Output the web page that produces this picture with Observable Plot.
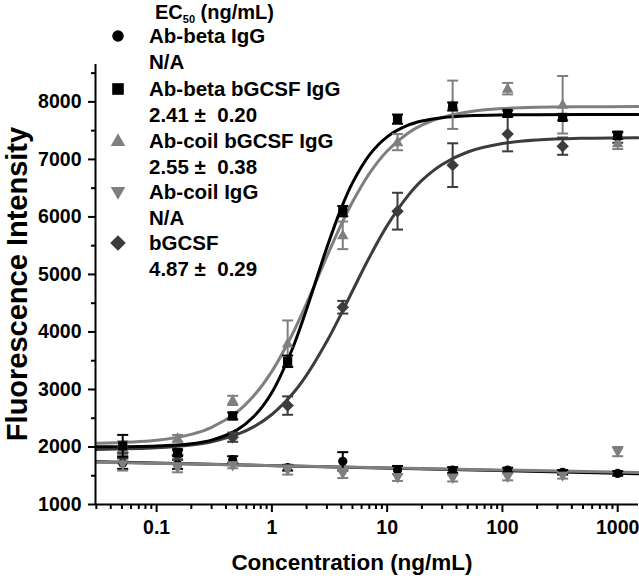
<!DOCTYPE html>
<html><head><meta charset="utf-8">
<script src="https://cdn.jsdelivr.net/npm/d3@7"></script>
<script src="https://cdn.jsdelivr.net/npm/@observablehq/plot@0.6"></script>
<style>
body{margin:0;background:#fff;}
#chart{width:639px;height:580px;}
</style></head><body><div id="chart"></div>
<script>
// ---- data ----
const concentrations = [0.0508, 0.152, 0.457, 1.37, 4.12, 12.3, 37.0, 111, 333, 1000];
const seriesNames = ["Ab-beta IgG", "Ab-beta bGCSF IgG", "Ab-coil bGCSF IgG", "Ab-coil IgG", "bGCSF"];
const ec50Labels = ["N/A", "2.41 \u00b1  0.20", "2.55 \u00b1  0.38", "N/A", "4.87 \u00b1  0.29"];
const seriesColors = ["#000000", "#000000", "#7f7f7f", "#7f7f7f", "#3c3c3c"];
const seriesShapes = ["circle", "square", "triangleUp", "triangleDown", "diamond"];

const abBetaIgG        = [1720, 1700, 1780, 1640, 1750, 1600, 1600, 1600, 1560, 1540];
const abBetaIgGErr     = [100, 80, 60, 50, 160, 70, 50, 40, 40, 40];
const abBetaBGCSF      = [2020, 1900, 2540, 3490, 6100, 7700, 7920, 7800, 7730, 7420];
const abBetaBGCSFErr   = [190, 60, 60, 100, 90, 80, 70, 50, 50, 60];
const abCoilBGCSF      = [1980, 2150, 2810, 3800, 5680, 7300, 7950, 8230, 7950, 7280];
const abCoilBGCSFErr   = [120, 60, 80, 400, 240, 140, 420, 100, 500, 100];
const abCoilIgG        = [1700, 1640, 1680, 1600, 1540, 1470, 1460, 1480, 1500, 1920];
const abCoilIgGErr     = [110, 80, 50, 80, 80, 60, 60, 60, 50, 80];
const bGCSF            = [1900, 1860, 2170, 2720, 4430, 6100, 6900, 7440, 7230, 7380];
const bGCSFErr         = [100, 80, 80, 160, 110, 320, 380, 300, 150, 90];

// fitted curves
const fitX = [0.03, 0.1, 0.2, 0.3, 0.5, 0.7, 1, 1.5, 2, 3, 4, 5, 7, 10, 15, 20, 30, 50, 100, 200, 500, 1500];
const fitAbBetaBGCSF = [2002, 2016, 2057, 2120, 2298, 2533, 2949, 3700, 4396, 5469, 6153, 6591, 7075, 7392, 7590, 7667, 7726, 7759, 7774, 7778, 7780, 7780];
const fitAbCoilBGCSF = [2063, 2116, 2220, 2341, 2611, 2895, 3315, 3956, 4498, 5313, 5869, 6258, 6753, 7146, 7452, 7597, 7731, 7825, 7883, 7906, 7915, 7918];
const fitBGCSF       = [1957, 1985, 2034, 2091, 2218, 2354, 2565, 2916, 3249, 3837, 4319, 4712, 5294, 5848, 6357, 6635, 6913, 7129, 7275, 7337, 7367, 7377];
const linX = [0.03, 1500];
const fitAbBetaIgG = [1745, 1535];
const fitAbCoilIgG = [1735, 1555];

const xDomain = [0.0295, 1515];
const yDomain = [1000, 8650];
const xTicks = [0.1, 1, 10, 100, 1000];
const xMinorTicks = [0.03,0.04,0.05,0.06,0.07,0.08,0.09, 0.2,0.3,0.4,0.5,0.6,0.7,0.8,0.9, 2,3,4,5,6,7,8,9, 20,30,40,50,60,70,80,90, 200,300,400,500,600,700,800,900];
const yTicks = [1000, 2000, 3000, 4000, 5000, 6000, 7000, 8000];
const yMinorTicks = [1500, 2500, 3500, 4500, 5500, 6500, 7500, 8500];

// ---- symbols ----
function sym(kind) {
  return {draw(ctx, size) {
    const r = Math.sqrt(size / Math.PI);
    if (kind === "circle") { ctx.moveTo(r, 0); ctx.arc(0, 0, r, 0, 2 * Math.PI); }
    else if (kind === "square") { ctx.rect(-r, -r, 2 * r, 2 * r); }
    else if (kind === "triangleUp") { const w = 1.25 * r, h = 2.2 * r; ctx.moveTo(0, -h * 0.6); ctx.lineTo(w, h * 0.4); ctx.lineTo(-w, h * 0.4); ctx.closePath(); }
    else if (kind === "triangleDown") { const w = 1.25 * r, h = 2.2 * r; ctx.moveTo(0, h * 0.6); ctx.lineTo(w, -h * 0.4); ctx.lineTo(-w, -h * 0.4); ctx.closePath(); }
    else if (kind === "diamond") { const a = 1.35 * r; ctx.moveTo(0, -a); ctx.lineTo(a, 0); ctx.lineTo(0, a); ctx.lineTo(-a, 0); ctx.closePath(); }
    else if (kind === "cap") { ctx.moveTo(-r, 0); ctx.lineTo(r, 0); }
  }};
}

const valuesList = [abBetaIgG, abBetaBGCSF, abCoilBGCSF, abCoilIgG, bGCSF];
const errList = [abBetaIgGErr, abBetaBGCSFErr, abCoilBGCSFErr, abCoilIgGErr, bGCSFErr];
const points = [];
valuesList.forEach((vals, s) => vals.forEach((v, i) => {
  points.push({s, x: concentrations[i], y: v, lo: v - errList[s][i], hi: v + errList[s][i]});
}));

const fits = [
  {xs: linX, ys: fitAbBetaIgG, color: seriesColors[0]},
  {xs: linX, ys: fitAbCoilIgG, color: seriesColors[3]},
  {xs: fitX, ys: fitBGCSF, color: seriesColors[4]},
  {xs: fitX, ys: fitAbCoilBGCSF, color: seriesColors[2]},
  {xs: fitX, ys: fitAbBetaBGCSF, color: seriesColors[1]}
];

const marks = [];
fits.forEach(f => {
  marks.push(Plot.line(f.xs.map((x, i) => ({x, y: f.ys[i]})), {x: "x", y: "y", stroke: f.color, strokeWidth: 3, curve: "catmull-rom"}));
});
[0, 3, 4, 2, 1].forEach(s => {
  const d = points.filter(p => p.s === s);
  const c = seriesColors[s];
  marks.push(Plot.ruleX(d, {x: "x", y1: "lo", y2: "hi", stroke: c, strokeWidth: 2}));
  marks.push(Plot.dot(d, {x: "x", y: "lo", symbol: sym("cap"), r: 5.5, fill: "none", stroke: c, strokeWidth: 2}));
  marks.push(Plot.dot(d, {x: "x", y: "hi", symbol: sym("cap"), r: 5.5, fill: "none", stroke: c, strokeWidth: 2}));
  marks.push(Plot.dot(d, {x: "x", y: "y", symbol: sym(seriesShapes[s]), r: 4.6, fill: c, stroke: "none"}));
});

marks.push(Plot.axisY({ticks: yMinorTicks, tickSize: 4, tickFormat: () => "", strokeWidth: 2}));
marks.push(Plot.axisY({ticks: yTicks, tickSize: 7, tickPadding: 7, tickFormat: d => String(d), strokeWidth: 2}));
marks.push(Plot.axisX({ticks: xMinorTicks, tickSize: 5, tickFormat: () => "", strokeWidth: 2}));
marks.push(Plot.axisX({ticks: xTicks, tickSize: 8, tickPadding: 8, tickFormat: d => String(d), strokeWidth: 2}));
marks.push(Plot.ruleX([xDomain[0]], {stroke: "#000", strokeWidth: 2}));
marks.push(Plot.ruleY([yDomain[0]], {stroke: "#000", strokeWidth: 2}));

const svg = Plot.plot({
  width: 639, height: 580,
  marginLeft: 95, marginRight: 1, marginTop: 64, marginBottom: 76,
  x: {type: "log", domain: xDomain, label: null},
  y: {domain: yDomain, label: null},
  style: {fontFamily: "'Liberation Sans', Arial, sans-serif", fontSize: "19.5px", fontWeight: "bold", color: "#000", background: "#fff"},
  marks
});

const g = d3.select(svg).append("g")
  .attr("font-family", "'Liberation Sans', Arial, sans-serif").attr("font-weight", "bold")
  .attr("fill", "#000").attr("text-anchor", "start");
// axis titles
g.append("text").attr("x", 352).attr("y", 570).attr("text-anchor", "middle").attr("font-size", 22.5).text("Concentration (ng/mL)");
g.append("text").attr("transform", "translate(27,284) rotate(-90)").attr("text-anchor", "middle").attr("font-size", 29).text("Fluorescence Intensity");
// legend
const title = g.append("text").attr("x", 155).attr("y", 19).attr("font-size", 20);
title.append("tspan").text("EC");
title.append("tspan").attr("font-size", 11).attr("dy", 4).text("50");
title.append("tspan").attr("dy", -4).text(" (ng/mL)");
const rowY = [36, 89, 141, 192, 243];
seriesNames.forEach((name, s) => {
  const y = rowY[s];
  g.append("path").attr("transform", `translate(118,${y})`)
    .attr("d", d3.symbol(sym(seriesShapes[s]), Math.PI * 5.8 * 5.8)())
    .attr("fill", seriesColors[s]);
  g.append("text").attr("x", 149).attr("y", y + 7).attr("font-size", 20.5).text(name);
  g.append("text").attr("x", 149).attr("y", y + 33).attr("font-size", 20.5).style("white-space", "pre").text(ec50Labels[s]);
});

document.getElementById("chart").appendChild(svg);
</script>
</body></html>
